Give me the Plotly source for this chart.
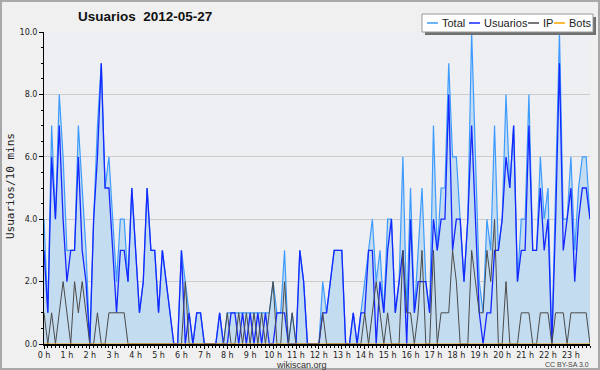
import plotly.graph_objects as go

# 10-minute slots over the day (144 slots)
slots_per_hour = 6
usuarios = [3,1,6,4,7,4,2,3,3,6,3,2,
            0,4,6,9,5,5,3,1,3,3,2,5,
            3,1,2,5,3,3,1,3,2,1,0,0,
            3,0,1,0,1,1,0,0,0,0,1,0,
            0,1,1,0,1,0,1,0,1,0,1,0,
            0,1,1,1,0,0,0,3,2,0,0,0,
            0,1,1,2,3,3,3,0,0,1,0,1,
            1,3,3,0,2,1,3,4,1,2,3,0,
            4,1,2,2,2,1,4,3,4,4,8,3,
            4,4,2,4,7,4,1,0,1,1,3,3,
            4,6,5,7,2,3,3,7,3,3,5,3,
            4,0,4,9,3,4,5,2,4,5,5,4]
ip = [1,0,1,0,1,2,1,0,2,1,2,1,
      0,0,1,0,0,1,1,1,1,1,0,0,
      0,0,0,0,0,0,0,0,0,0,0,0,
      0,2,0,0,0,0,0,0,0,0,0,0,
      1,0,0,1,0,1,0,1,0,1,0,1,
      2,0,0,2,0,1,0,0,0,0,0,0,
      0,1,0,0,0,0,0,0,0,0,0,0,
      1,0,1,2,1,0,1,0,0,0,3,1,
      1,0,1,3,0,0,3,0,1,1,1,3,
      2,0,0,0,3,2,1,1,3,2,4,0,
      0,2,0,0,0,1,1,1,0,0,1,1,
      1,0,1,1,1,0,1,1,1,1,1,0]
total = [4,1,7,4,8,6,3,3,3,7,5,3,
         0,4,7,9,5,6,4,2,4,4,2,5,
         3,1,2,5,3,3,1,3,2,1,0,0,
         3,2,1,0,1,1,0,0,0,0,1,0,
         1,1,1,1,1,1,1,1,1,1,1,1,
         2,1,1,3,0,1,0,3,2,0,0,0,
         0,2,1,2,3,3,3,0,0,1,0,1,
         2,3,4,2,3,1,4,4,1,2,6,1,
         5,1,3,5,2,1,7,3,5,5,9,6,
         6,4,2,4,10,6,2,1,4,3,7,3,
         4,8,5,7,2,4,4,8,3,3,6,4,
         5,0,5,10,4,4,6,3,5,6,6,4]
bots = [0] * 144

hours = [i / slots_per_hour for i in range(len(total))]

C_TOTAL = "#3d9bff"
C_FILL = "#c4dcf0"
C_USU = "#1428ff"
C_IP = "#4a4a4a"
C_BOTS = "#ffa500"

fig = go.Figure()
fig.add_trace(go.Scatter(x=hours, y=total, mode="lines", name="Total",
                         line=dict(color=C_TOTAL, width=1.2),
                         fill="tozeroy", fillcolor=C_FILL))
fig.add_trace(go.Scatter(x=hours, y=usuarios, mode="lines", name="Usuarios",
                         line=dict(color=C_USU, width=1.3)))
fig.add_trace(go.Scatter(x=hours, y=ip, mode="lines", name="IP",
                         line=dict(color=C_IP, width=1)))
fig.add_trace(go.Scatter(x=hours, y=bots, mode="lines", name="Bots",
                         line=dict(color=C_BOTS, width=1)))

L, R, T, B = 44, 10, 32, 26
W, H = 600, 370
PW, PH = W - L - R, H - T - B

def px(xp):
    return (xp - L) / PW

def py(yp):
    return (H - B - yp) / PH

shapes = []
annotations = []

# outer border
shapes.append(dict(type="rect", xref="paper", yref="paper",
                   x0=px(1), x1=px(599), y0=py(369), y1=py(1),
                   line=dict(color="#a8a8a8", width=2), layer="below"))

# legend box with shadow
shapes.append(dict(type="rect", xref="paper", yref="paper",
                   x0=px(425), x1=px(596), y0=py(35), y1=py(17),
                   fillcolor="#707070", line=dict(width=0)))
shapes.append(dict(type="rect", xref="paper", yref="paper",
                   x0=px(422), x1=px(593), y0=py(32), y1=py(14),
                   fillcolor="white", line=dict(color="#999999", width=1)))
legend_items = [("Total", C_TOTAL, 427, 441), ("Usuarios", C_USU, 469, 483),
                ("IP", C_IP, 528, 542), ("Bots", C_BOTS, 554, 568)]
for name, col, lx, tx in legend_items:
    shapes.append(dict(type="line", xref="paper", yref="paper",
                       x0=px(lx), x1=px(lx + 11), y0=py(23), y1=py(23),
                       line=dict(color=col, width=1.5)))
    annotations.append(dict(text=name, xref="paper", yref="paper",
                            x=px(tx), y=py(23), xanchor="left", yanchor="middle",
                            showarrow=False, borderpad=0,
                            font=dict(family="Liberation Sans", size=11, color="#222")))

# title
annotations.append(dict(text="<b>Usuarios  2012-05-27</b>", xref="paper", yref="paper",
                        x=px(77), y=py(17), xanchor="left", yanchor="middle",
                        showarrow=False, borderpad=0,
                        font=dict(family="Liberation Sans", size=13.5, color="#111")))
# y axis title
annotations.append(dict(text="Usuarios/10 mins", xref="paper", yref="paper",
                        x=px(10), y=py(186), xanchor="center", yanchor="middle",
                        textangle=-90, showarrow=False, borderpad=0,
                        font=dict(family="DejaVu Sans Mono", size=11, color="#222")))
# footer
annotations.append(dict(text="wikiscan.org", xref="paper", yref="paper",
                        x=px(301), y=py(364.5), xanchor="center", yanchor="middle",
                        showarrow=False, borderpad=0,
                        font=dict(family="Liberation Sans", size=9, color="#333")))
annotations.append(dict(text="CC BY-SA 3.0", xref="paper", yref="paper",
                        x=px(590), y=py(364), xanchor="right", yanchor="middle",
                        showarrow=False, borderpad=0,
                        font=dict(family="Liberation Sans", size=7, color="#444")))

fig.update_layout(
    width=W, height=H,
    margin=dict(l=L, r=R, t=T, b=B, pad=0),
    paper_bgcolor="#f0f0f0",
    plot_bgcolor="#eeeff2",
    showlegend=False,
    shapes=shapes,
    annotations=annotations,
    xaxis=dict(range=[0, hours[-1]], tickmode="linear", tick0=0, dtick=1,
               ticksuffix=" h", ticks="outside", ticklen=3, tickcolor="black",
               showline=True, linecolor="black", linewidth=1.5,
               showgrid=False, zeroline=False,
               tickfont=dict(family="DejaVu Sans", size=8, color="#222"),
               minor=dict(tickmode="linear", tick0=0, dtick=1 / slots_per_hour,
                          ticks="outside", ticklen=2, tickcolor="black", showgrid=False)),
    yaxis=dict(range=[0, 10], tickmode="linear", tick0=0, dtick=2, tickformat=".1f",
               ticks="outside", ticklen=4, tickcolor="black",
               showline=True, linecolor="black", linewidth=1,
               showgrid=True, gridcolor="#cccccc", gridwidth=1, zeroline=False,
               tickfont=dict(family="DejaVu Sans", size=8, color="#222"),
               minor=dict(tickmode="linear", tick0=0, dtick=0.5,
                          ticks="outside", ticklen=2, tickcolor="black", showgrid=False)),
)

fig.write_html("out.html", config={"displayModeBar": False},
               post_script="document.body.style.margin='0';document.body.style.overflow='hidden';")
